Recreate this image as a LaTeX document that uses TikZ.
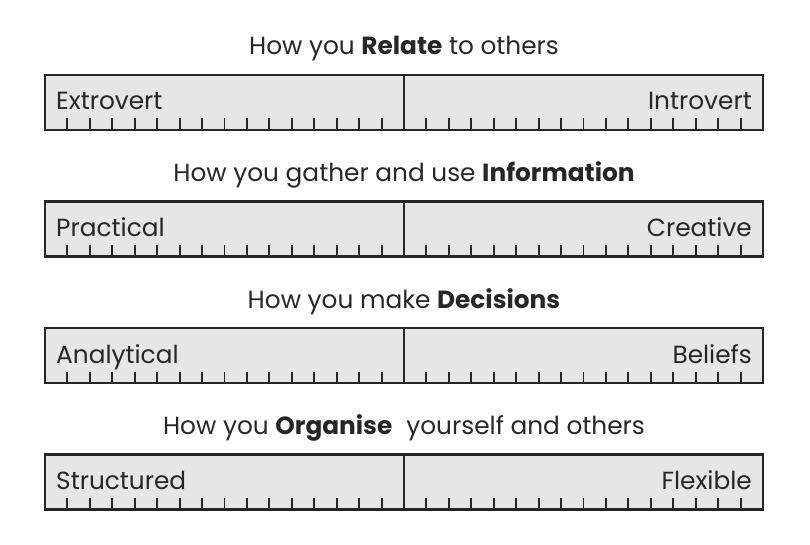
\documentclass[tikz,border=0pt]{standalone}
\usepackage{fontspec}
\setmainfont{Poppins}
\definecolor{barfill}{HTML}{E6E6E7}
\definecolor{barline}{HTML}{262626}

\begin{document}
\begin{tikzpicture}[
    x=1pt, y=-1pt,
    every node/.style={font=\fontsize{24.8}{29}\selectfont, text=barline, inner sep=0pt},
    bar/.style={fill=barfill, draw=barline, line width=2.5pt},
    scaletick/.style={draw=barline, line width=1.9pt},
    divider/.style={draw=barline, line width=2.2pt},
]

\useasboundingbox (0,0) rectangle (810,545);

% === Four preference scales ===
\foreach \i/\top/\title/\lo/\hi in {
    1/75/{How you \textbf{Relate} to others}/Extrovert/Introvert,
    2/201.5/{How you gather and use \textbf{Information}}/Practical/Creative,
    3/328/{How you make \textbf{Decisions}}/Analytical/Beliefs,
    4/454.5/{How you \textbf{Organise}\hspace{0.3em} yourself and others}/Structured/Flexible} {
    % heading
    \node[anchor=base] (title\i) at (404,\top-20) {\title};
    % bar
    \draw[bar] (45,\top) rectangle (763,\top+55);
    \draw[divider] (404,\top) -- (404,\top+55);
    % ticks
    \foreach \k in {1,...,15,17,18,...,31}
        \draw[scaletick] (45+\k*22.4375,\top+55) -- (45+\k*22.4375,\top+43.5);
    % end labels
    \node[anchor=base west] (lo\i) at (56,\top+35) {\lo};
    \node[anchor=base east] (hi\i) at (752,\top+35) {\hi};
}

\end{tikzpicture}
\end{document}
